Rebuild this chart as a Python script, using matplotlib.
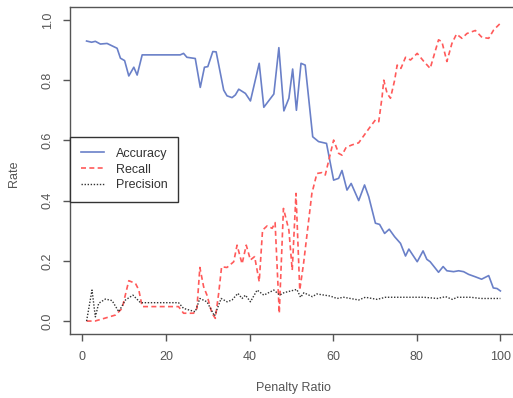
import matplotlib
matplotlib.use("Agg")
import matplotlib.pyplot as plt

# values
acc_x = [1, 2.2, 3.1, 4.3, 5.9, 7.1, 8.3, 9.1, 10.1, 11.1, 12.3, 13.1, 14.3, 23.4, 24.2, 25, 27,
         28.2, 29.2, 30, 31.2, 32, 33.8, 34.6, 35.8, 36.6, 37.4, 39, 40.2, 42.3, 43.4, 45.8, 47,
         48.2, 49.4, 50.3, 51.2, 52.3, 53.3, 55.1, 56.5, 58.4, 60.1, 61.3, 62.1, 63.3, 64.3, 66.1,
         67.5, 68.5, 70.1, 71.1, 72.3, 73.4, 74.7, 76.1, 77.3, 78.1, 80.1, 81.5, 82.4, 83.2, 85.2,
         86.3, 87.2, 88.8, 90, 91.2, 92.4, 94, 95.5, 97.2, 98.3, 99.2, 100]
acc_y = [0.93, 0.926, 0.929, 0.92, 0.922, 0.914, 0.906, 0.873, 0.865, 0.814, 0.843, 0.817, 0.884,
         0.884, 0.889, 0.876, 0.872, 0.776, 0.843, 0.845, 0.895, 0.894, 0.767, 0.748, 0.742, 0.751,
         0.77, 0.756, 0.731, 0.856, 0.71, 0.754, 0.908, 0.698, 0.74, 0.837, 0.70, 0.856, 0.85, 0.612,
         0.596, 0.59, 0.468, 0.474, 0.50, 0.435, 0.457, 0.40, 0.452, 0.413, 0.325, 0.321, 0.291,
         0.305, 0.28, 0.258, 0.216, 0.239, 0.197, 0.233, 0.205, 0.197, 0.162, 0.181, 0.167, 0.164,
         0.167, 0.164, 0.155, 0.147, 0.139, 0.151, 0.11, 0.108, 0.10]

rec_x = [1, 3, 5.5, 7.9, 9.5, 11.1, 12.7, 13.5, 14.3, 23, 24.2, 26.6, 27.4, 28.1, 29, 29.8, 31,
         31.8, 32.6, 33.3, 34.6, 36.2, 37, 38.2, 39.2, 40.2, 41.2, 42.3, 43.1, 44.2, 45.4, 46.1,
         47.1, 48.1, 49.4, 50.2, 51.1, 52, 52.9, 54.9, 56.1, 57.3, 58.1, 60.1, 61.3, 62.1, 63.1,
         64.5, 66.1, 67.7, 68.9, 70.1, 70.9, 71.7, 72.1, 72.9, 73.7, 74.7, 75.3, 76.2, 77.3, 78.5,
         80.1, 81.7, 83.2, 85.2, 86, 87.2, 88.4, 89.5, 90.8, 92, 94, 95.6, 97.2, 98.4, 100]
rec_y = [0.0, 0.0, 0.01, 0.02, 0.042, 0.134, 0.125, 0.103, 0.048, 0.048, 0.026, 0.026, 0.042, 0.178,
         0.114, 0.086, 0.026, 0.009, 0.092, 0.18, 0.178, 0.197, 0.252, 0.19, 0.252, 0.203, 0.214,
         0.131, 0.302, 0.316, 0.308, 0.327, 0.026, 0.374, 0.302, 0.169, 0.424, 0.103, 0.19, 0.424,
         0.49, 0.493, 0.485, 0.601, 0.557, 0.551, 0.577, 0.585, 0.592, 0.623, 0.646, 0.668, 0.662,
         0.745, 0.80, 0.756, 0.74, 0.80, 0.85, 0.839, 0.876, 0.867, 0.889, 0.862, 0.839, 0.934,
         0.928, 0.862, 0.922, 0.953, 0.939, 0.955, 0.965, 0.942, 0.939, 0.967, 0.989]

prec_x = [1, 2.3, 3.1, 3.9, 5.5, 7.1, 8.7, 10.3, 12.1, 13.9, 23, 24.2, 27, 28.1, 29.8, 31.6, 33.2,
          34.6, 35.8, 37.2, 38.2, 39, 40.2, 41.8, 43.4, 45.8, 47.2, 48.2, 49, 51.3, 52.2, 53, 55,
          56.1, 59.3, 60.9, 62.5, 66.1, 67.7, 70.5, 72.5, 77.7, 81.7, 84.9, 86.9, 88.5, 89.7, 92.9,
          95.3, 100]
prec_y = [0.0, 0.103, 0.014, 0.059, 0.073, 0.068, 0.031, 0.07, 0.086, 0.061, 0.061, 0.042, 0.031,
          0.075, 0.064, 0.017, 0.075, 0.064, 0.07, 0.092, 0.075, 0.086, 0.064, 0.103, 0.086, 0.103,
          0.086, 0.094, 0.097, 0.105, 0.079, 0.094, 0.081, 0.09, 0.083, 0.075, 0.079, 0.07, 0.079,
          0.072, 0.079, 0.079, 0.079, 0.075, 0.081, 0.072, 0.079, 0.079, 0.075, 0.075]

labels = ["Accuracy", "Recall", "Precision"]
x_ticks = [0, 20, 40, 60, 80, 100]
y_ticks = [0.0, 0.2, 0.4, 0.6, 0.8, 1.0]

plt.rcParams['font.family'] = ['Liberation Sans', 'DejaVu Sans']
grey = "#555555"

fig = plt.figure(figsize=(5.13, 3.98), dpi=100)
ax = fig.add_axes([0.1365, 0.1608, 0.8712, 0.8216])

ax.plot(acc_x, acc_y, color="#6a80c8", lw=1.2, label=labels[0])
ax.plot(rec_x, rec_y, color="#ff5a5a", lw=1.2, ls=(0, (3, 2)), label=labels[1])
ax.plot(prec_x, prec_y, color="#333333", lw=1.0, ls=(0, (1, 1.2)), label=labels[2])

ax.set_xlim(-2.96, 103.96)
ax.set_ylim(-0.043, 1.043)
ax.set_xticks(x_ticks)
ax.set_xticklabels([str(t) for t in x_ticks])
ax.set_yticks(y_ticks)
ax.set_yticklabels([f"{t:.1f}" for t in y_ticks], rotation=90, va="center",
                   rotation_mode="anchor", ha="center")

for s in ax.spines.values():
    s.set_color(grey)
    s.set_linewidth(1.0)
ax.spines['right'].set_visible(False)
ax.tick_params(colors=grey, labelcolor=grey, labelsize=9, length=5, width=1.0)
ax.tick_params(axis='x', pad=7)
ax.tick_params(axis='y', pad=11)

ax.set_xlabel("Penalty Ratio", color=grey, fontsize=9, labelpad=14)
ax.set_ylabel("Rate", color=grey, fontsize=9)
ax.yaxis.set_label_coords(-0.112, 0.49)

leg = ax.legend(loc="upper left", bbox_to_anchor=(0, 0.602), borderaxespad=0, fancybox=False,
                edgecolor="#333333", framealpha=1, fontsize=9, handlelength=1.9,
                handletextpad=0.9, labelspacing=0.3, borderpad=0.85)
leg.get_frame().set_linewidth(1.0)
for t in leg.get_texts():
    t.set_color("#333333")

fig.savefig("out.png", dpi=100)
